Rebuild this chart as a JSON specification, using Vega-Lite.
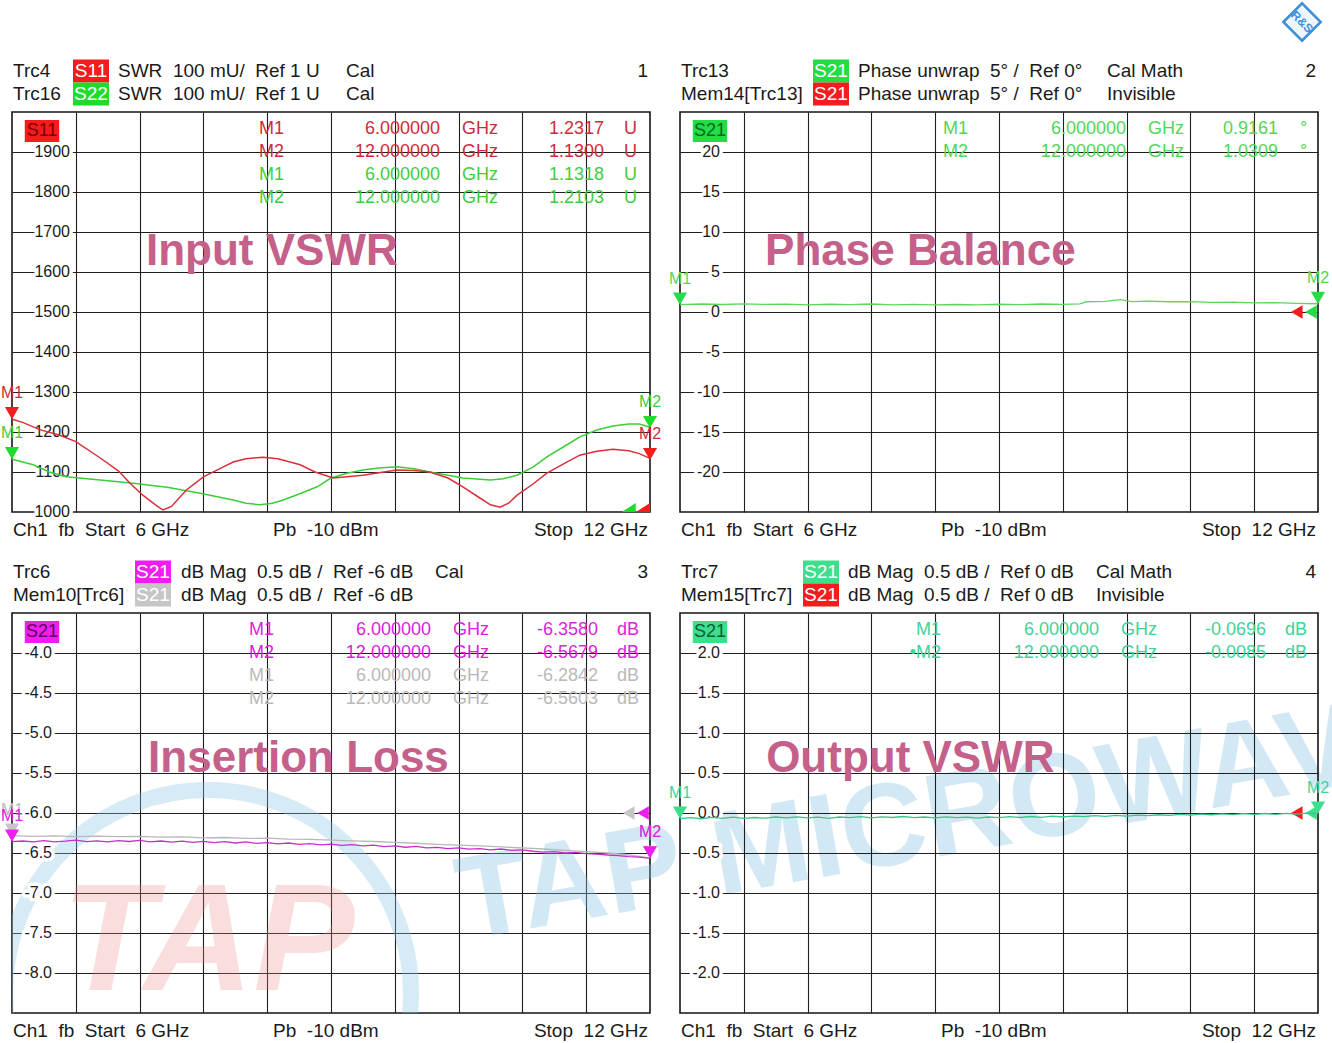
{
  "$schema": "https://vega.github.io/schema/vega-lite/v6.json",
  "background": "white",
  "padding": {"left": 0, "top": -3, "right": 0, "bottom": 0},
  "config": {
    "font": "Liberation Sans",
    "view": {"stroke": "#151515", "strokeWidth": 1.6},
    "axis": {"grid": true, "labels": false, "ticks": false, "domain": false, "gridColor": "#1e1e1e", "gridWidth": 1.1, "gridOpacity": 1}
  },
  "datasets": {
    "p1_s11": [
      {"ghz": 6.0, "val": 1232}, {"ghz": 6.1, "val": 1224}, {"ghz": 6.26, "val": 1206}, {"ghz": 6.45, "val": 1192},
      {"ghz": 6.6, "val": 1176}, {"ghz": 6.83, "val": 1135}, {"ghz": 7.0, "val": 1103}, {"ghz": 7.11, "val": 1072},
      {"ghz": 7.23, "val": 1042}, {"ghz": 7.35, "val": 1018}, {"ghz": 7.42, "val": 1005}, {"ghz": 7.5, "val": 1014},
      {"ghz": 7.64, "val": 1055}, {"ghz": 7.8, "val": 1088}, {"ghz": 7.95, "val": 1108}, {"ghz": 8.08, "val": 1125},
      {"ghz": 8.2, "val": 1133}, {"ghz": 8.36, "val": 1137}, {"ghz": 8.5, "val": 1133}, {"ghz": 8.71, "val": 1118},
      {"ghz": 8.85, "val": 1100}, {"ghz": 9.02, "val": 1085}, {"ghz": 9.15, "val": 1088}, {"ghz": 9.3, "val": 1092},
      {"ghz": 9.45, "val": 1098}, {"ghz": 9.62, "val": 1105}, {"ghz": 9.78, "val": 1104}, {"ghz": 9.93, "val": 1100},
      {"ghz": 10.1, "val": 1085}, {"ghz": 10.24, "val": 1063}, {"ghz": 10.4, "val": 1035}, {"ghz": 10.5, "val": 1018},
      {"ghz": 10.59, "val": 1012}, {"ghz": 10.67, "val": 1022}, {"ghz": 10.75, "val": 1042}, {"ghz": 10.9, "val": 1070},
      {"ghz": 11.03, "val": 1097}, {"ghz": 11.2, "val": 1122}, {"ghz": 11.34, "val": 1142}, {"ghz": 11.5, "val": 1152},
      {"ghz": 11.65, "val": 1157}, {"ghz": 11.8, "val": 1153}, {"ghz": 11.9, "val": 1146}, {"ghz": 12.0, "val": 1134}
    ],
    "p1_s22": [
      {"ghz": 6.0, "val": 1132}, {"ghz": 6.2, "val": 1118}, {"ghz": 6.35, "val": 1100}, {"ghz": 6.51, "val": 1088},
      {"ghz": 6.83, "val": 1080}, {"ghz": 7.14, "val": 1072}, {"ghz": 7.46, "val": 1062}, {"ghz": 7.77, "val": 1047},
      {"ghz": 8.08, "val": 1030}, {"ghz": 8.2, "val": 1022}, {"ghz": 8.33, "val": 1018}, {"ghz": 8.45, "val": 1022},
      {"ghz": 8.55, "val": 1030}, {"ghz": 8.7, "val": 1045}, {"ghz": 8.87, "val": 1063}, {"ghz": 9.0, "val": 1085},
      {"ghz": 9.15, "val": 1097}, {"ghz": 9.3, "val": 1105}, {"ghz": 9.45, "val": 1110}, {"ghz": 9.62, "val": 1113},
      {"ghz": 9.78, "val": 1108}, {"ghz": 9.93, "val": 1100}, {"ghz": 10.1, "val": 1092}, {"ghz": 10.24, "val": 1085},
      {"ghz": 10.5, "val": 1080}, {"ghz": 10.62, "val": 1083}, {"ghz": 10.75, "val": 1092}, {"ghz": 10.9, "val": 1112},
      {"ghz": 11.03, "val": 1138}, {"ghz": 11.2, "val": 1165}, {"ghz": 11.34, "val": 1188}, {"ghz": 11.5, "val": 1205},
      {"ghz": 11.65, "val": 1215}, {"ghz": 11.8, "val": 1220}, {"ghz": 11.9, "val": 1220}, {"ghz": 12.0, "val": 1212}
    ],
    "p1_markers": [
      {"ghz": 6, "val": 1232, "m": "M1", "trc": "Trc4"}, {"ghz": 12, "val": 1130, "m": "M2", "trc": "Trc4"},
      {"ghz": 6, "val": 1132, "m": "M1", "trc": "Trc16"}, {"ghz": 12, "val": 1210, "m": "M2", "trc": "Trc16"}
    ],
    "p1_table": [
      {"val": 1957.5, "m": "M1", "f": "6.000000", "u": "GHz", "v": "1.2317", "vu": "U", "trc": "Trc4"},
      {"val": 1900, "m": "M2", "f": "12.000000", "u": "GHz", "v": "1.1300", "vu": "U", "trc": "Trc4"},
      {"val": 1842.5, "m": "M1", "f": "6.000000", "u": "GHz", "v": "1.1318", "vu": "U", "trc": "Trc16"},
      {"val": 1785, "m": "M2", "f": "12.000000", "u": "GHz", "v": "1.2103", "vu": "U", "trc": "Trc16"}
    ],
    "p1_ticks": [
      {"val": 1000, "lab": "1000"}, {"val": 1100, "lab": "1100"}, {"val": 1200, "lab": "1200"}, {"val": 1300, "lab": "1300"},
      {"val": 1400, "lab": "1400"}, {"val": 1500, "lab": "1500"}, {"val": 1600, "lab": "1600"}, {"val": 1700, "lab": "1700"},
      {"val": 1800, "lab": "1800"}, {"val": 1900, "lab": "1900"}
    ],
    "p1_left": [
      {"ghz": 6.0094, "val": 2102.5, "t": "Trc4"},
      {"ghz": 6.997, "val": 2102.5, "t": "SWR\u00a0\u00a0100\u00a0mU/\u00a0\u00a0Ref\u00a01\u00a0U"},
      {"ghz": 9.141, "val": 2102.5, "t": "Cal"},
      {"ghz": 6.0094, "val": 2045, "t": "Trc16"},
      {"ghz": 6.997, "val": 2045, "t": "SWR\u00a0\u00a0100\u00a0mU/\u00a0\u00a0Ref\u00a01\u00a0U"},
      {"ghz": 9.141, "val": 2045, "t": "Cal"},
      {"ghz": 6.0094, "val": 955, "t": "Ch1\u00a0\u00a0fb\u00a0\u00a0Start\u00a0\u00a06\u00a0GHz"},
      {"ghz": 8.455, "val": 955, "t": "Pb\u00a0\u00a0-10\u00a0dBm"}
    ],
    "p1_right": [
      {"ghz": 11.981, "val": 2102.5, "t": "1"},
      {"ghz": 11.981, "val": 955, "t": "Stop\u00a0\u00a012\u00a0GHz"}
    ],
    "p1_badges": [
      {"ghz": 6.743, "val": 2102.5, "t": "S11", "trc": "Trc4"},
      {"ghz": 6.743, "val": 2045, "t": "S22", "trc": "Trc16"}
    ],
    "p1_inbadge": [{"ghz": 6.282, "val": 1952.5, "t": "S11", "trc": "Trc4"}],
    "p1_title": [{"ghz": 7.26, "val": 1617.5, "t": "Input VSWR"}],
    "p1_ref": [{"ghz": 11.8, "val": 1000, "trc": "Trc16"}, {"ghz": 11.934, "val": 1000, "trc": "Trc4"}],

    "p2_s21": [
      {"ghz": 6.0, "val": 0.92}, {"ghz": 6.2, "val": 1.0}, {"ghz": 6.4, "val": 0.94}, {"ghz": 6.6, "val": 1.02},
      {"ghz": 6.8, "val": 0.95}, {"ghz": 7.0, "val": 0.98}, {"ghz": 7.2, "val": 0.9}, {"ghz": 7.4, "val": 0.97},
      {"ghz": 7.6, "val": 0.93}, {"ghz": 7.8, "val": 1.0}, {"ghz": 8.0, "val": 0.9}, {"ghz": 8.2, "val": 0.96},
      {"ghz": 8.4, "val": 0.88}, {"ghz": 8.6, "val": 0.94}, {"ghz": 8.8, "val": 0.9}, {"ghz": 9.0, "val": 0.97},
      {"ghz": 9.2, "val": 0.93}, {"ghz": 9.4, "val": 1.0}, {"ghz": 9.6, "val": 0.96}, {"ghz": 9.76, "val": 1.02},
      {"ghz": 9.82, "val": 1.28}, {"ghz": 10.0, "val": 1.32}, {"ghz": 10.14, "val": 1.55}, {"ghz": 10.25, "val": 1.3},
      {"ghz": 10.4, "val": 1.36}, {"ghz": 10.6, "val": 1.28}, {"ghz": 10.8, "val": 1.3}, {"ghz": 11.0, "val": 1.2},
      {"ghz": 11.2, "val": 1.24}, {"ghz": 11.4, "val": 1.14}, {"ghz": 11.6, "val": 1.16}, {"ghz": 11.8, "val": 1.08},
      {"ghz": 12.0, "val": 1.03}
    ],
    "p2_markers": [
      {"ghz": 6, "val": 0.9161, "m": "M1", "trc": "Trc13"}, {"ghz": 12, "val": 1.0309, "m": "M2", "trc": "Trc13"}
    ],
    "p2_table": [
      {"val": 22.875, "m": "M1", "f": "6.000000", "u": "GHz", "v": "0.9161", "vu": "°", "trc": "Trc13"},
      {"val": 20, "m": "M2", "f": "12.000000", "u": "GHz", "v": "1.0309", "vu": "°", "trc": "Trc13"}
    ],
    "p2_ticks": [
      {"val": -20, "lab": "-20"}, {"val": -15, "lab": "-15"}, {"val": -10, "lab": "-10"}, {"val": -5, "lab": "-5"},
      {"val": 0, "lab": "0"}, {"val": 5, "lab": "5"}, {"val": 10, "lab": "10"}, {"val": 15, "lab": "15"}, {"val": 20, "lab": "20"}
    ],
    "p2_left": [
      {"ghz": 6.0094, "val": 30.125, "t": "Trc13"},
      {"ghz": 7.674, "val": 30.125, "t": "Phase\u00a0unwrap\u00a0\u00a05°\u00a0/\u00a0\u00a0Ref\u00a00°"},
      {"ghz": 10.016, "val": 30.125, "t": "Cal\u00a0Math"},
      {"ghz": 6.0094, "val": 27.25, "t": "Mem14[Trc13]"},
      {"ghz": 7.674, "val": 27.25, "t": "Phase\u00a0unwrap\u00a0\u00a05°\u00a0/\u00a0\u00a0Ref\u00a00°"},
      {"ghz": 10.016, "val": 27.25, "t": "Invisible"},
      {"ghz": 6.0094, "val": -27.25, "t": "Ch1\u00a0\u00a0fb\u00a0\u00a0Start\u00a0\u00a06\u00a0GHz"},
      {"ghz": 8.455, "val": -27.25, "t": "Pb\u00a0\u00a0-10\u00a0dBm"}
    ],
    "p2_right": [
      {"ghz": 11.981, "val": 30.125, "t": "2"},
      {"ghz": 11.981, "val": -27.25, "t": "Stop\u00a0\u00a012\u00a0GHz"}
    ],
    "p2_badges": [
      {"ghz": 7.42, "val": 30.125, "t": "S21", "trc": "Trc13"},
      {"ghz": 7.42, "val": 27.25, "t": "S21", "trc": "Mem14"}
    ],
    "p2_inbadge": [{"ghz": 6.282, "val": 22.625, "t": "S21", "trc": "Trc13"}],
    "p2_title": [{"ghz": 6.8, "val": 5.875, "t": "Phase Balance"}],
    "p2_ref": [{"ghz": 11.8, "val": 0, "trc": "Mem14"}, {"ghz": 11.934, "val": 0, "trc": "Trc13"}],
    "p2_logo": [{"ghz": 11.85, "val": 36.25, "t": "R&S"}],

    "p3_mem": [
      {"ghz": 6.0, "val": -6.284}, {"ghz": 6.2, "val": -6.292}, {"ghz": 6.4, "val": -6.286}, {"ghz": 6.6, "val": -6.295},
      {"ghz": 6.8, "val": -6.288}, {"ghz": 7.0, "val": -6.296}, {"ghz": 7.2, "val": -6.292}, {"ghz": 7.4, "val": -6.302},
      {"ghz": 7.6, "val": -6.298}, {"ghz": 7.8, "val": -6.31}, {"ghz": 8.0, "val": -6.306}, {"ghz": 8.2, "val": -6.318},
      {"ghz": 8.4, "val": -6.315}, {"ghz": 8.6, "val": -6.326}, {"ghz": 8.8, "val": -6.33}, {"ghz": 9.0, "val": -6.34},
      {"ghz": 9.2, "val": -6.348}, {"ghz": 9.4, "val": -6.356}, {"ghz": 9.6, "val": -6.368}, {"ghz": 9.8, "val": -6.378},
      {"ghz": 10.0, "val": -6.392}, {"ghz": 10.2, "val": -6.402}, {"ghz": 10.4, "val": -6.412}, {"ghz": 10.6, "val": -6.424},
      {"ghz": 10.8, "val": -6.436}, {"ghz": 11.0, "val": -6.45}, {"ghz": 11.2, "val": -6.466}, {"ghz": 11.4, "val": -6.482},
      {"ghz": 11.6, "val": -6.5}, {"ghz": 11.8, "val": -6.525}, {"ghz": 12.0, "val": -6.56}
    ],
    "p3_s21": [
      {"ghz": 6.0, "val": -6.358}, {"ghz": 6.1, "val": -6.35}, {"ghz": 6.2, "val": -6.362}, {"ghz": 6.3, "val": -6.345},
      {"ghz": 6.4, "val": -6.36}, {"ghz": 6.5, "val": -6.352}, {"ghz": 6.6, "val": -6.34}, {"ghz": 6.7, "val": -6.358},
      {"ghz": 6.8, "val": -6.348}, {"ghz": 6.9, "val": -6.362}, {"ghz": 7.0, "val": -6.345}, {"ghz": 7.1, "val": -6.356},
      {"ghz": 7.2, "val": -6.342}, {"ghz": 7.3, "val": -6.36}, {"ghz": 7.4, "val": -6.35}, {"ghz": 7.5, "val": -6.365},
      {"ghz": 7.6, "val": -6.352}, {"ghz": 7.7, "val": -6.368}, {"ghz": 7.8, "val": -6.355}, {"ghz": 7.9, "val": -6.37},
      {"ghz": 8.0, "val": -6.358}, {"ghz": 8.1, "val": -6.375}, {"ghz": 8.2, "val": -6.362}, {"ghz": 8.3, "val": -6.38},
      {"ghz": 8.4, "val": -6.37}, {"ghz": 8.5, "val": -6.385}, {"ghz": 8.6, "val": -6.375}, {"ghz": 8.7, "val": -6.392},
      {"ghz": 8.8, "val": -6.382}, {"ghz": 8.9, "val": -6.398}, {"ghz": 9.0, "val": -6.39}, {"ghz": 9.1, "val": -6.405},
      {"ghz": 9.2, "val": -6.395}, {"ghz": 9.3, "val": -6.412}, {"ghz": 9.4, "val": -6.402}, {"ghz": 9.5, "val": -6.42},
      {"ghz": 9.6, "val": -6.41}, {"ghz": 9.7, "val": -6.428}, {"ghz": 9.8, "val": -6.418}, {"ghz": 9.9, "val": -6.435},
      {"ghz": 10.0, "val": -6.43}, {"ghz": 10.1, "val": -6.445}, {"ghz": 10.2, "val": -6.436}, {"ghz": 10.3, "val": -6.452},
      {"ghz": 10.4, "val": -6.445}, {"ghz": 10.5, "val": -6.46}, {"ghz": 10.6, "val": -6.45}, {"ghz": 10.7, "val": -6.468},
      {"ghz": 10.8, "val": -6.46}, {"ghz": 10.9, "val": -6.478}, {"ghz": 11.0, "val": -6.488}, {"ghz": 11.1, "val": -6.482},
      {"ghz": 11.2, "val": -6.498}, {"ghz": 11.3, "val": -6.492}, {"ghz": 11.4, "val": -6.508}, {"ghz": 11.5, "val": -6.515},
      {"ghz": 11.6, "val": -6.525}, {"ghz": 11.7, "val": -6.532}, {"ghz": 11.8, "val": -6.545}, {"ghz": 11.9, "val": -6.552},
      {"ghz": 12.0, "val": -6.567}
    ],
    "p3_markers": [
      {"ghz": 6, "val": -6.2842, "m": "M1", "trc": "Mem10"}, {"ghz": 12, "val": -6.5603, "m": "M2", "trc": "Mem10"},
      {"ghz": 6, "val": -6.358, "m": "M1", "trc": "Trc6"}, {"ghz": 12, "val": -6.5679, "m": "M2", "trc": "Trc6"}
    ],
    "p3_table": [
      {"val": -3.7125, "m": "M1", "f": "6.000000", "u": "GHz", "v": "-6.3580", "vu": "dB", "trc": "Trc6"},
      {"val": -4.0, "m": "M2", "f": "12.000000", "u": "GHz", "v": "-6.5679", "vu": "dB", "trc": "Trc6"},
      {"val": -4.2875, "m": "M1", "f": "6.000000", "u": "GHz", "v": "-6.2842", "vu": "dB", "trc": "Mem10"},
      {"val": -4.575, "m": "M2", "f": "12.000000", "u": "GHz", "v": "-6.5603", "vu": "dB", "trc": "Mem10"}
    ],
    "p3_ticks": [
      {"val": -8, "lab": "-8.0"}, {"val": -7.5, "lab": "-7.5"}, {"val": -7, "lab": "-7.0"}, {"val": -6.5, "lab": "-6.5"},
      {"val": -6, "lab": "-6.0"}, {"val": -5.5, "lab": "-5.5"}, {"val": -5, "lab": "-5.0"}, {"val": -4.5, "lab": "-4.5"},
      {"val": -4, "lab": "-4.0"}
    ],
    "p3_left": [
      {"ghz": 6.0094, "val": -2.9875, "t": "Trc6"},
      {"ghz": 7.589, "val": -2.9875, "t": "dB\u00a0Mag\u00a0\u00a00.5\u00a0dB\u00a0/\u00a0\u00a0Ref\u00a0-6\u00a0dB"},
      {"ghz": 9.978, "val": -2.9875, "t": "Cal"},
      {"ghz": 6.0094, "val": -3.275, "t": "Mem10[Trc6]"},
      {"ghz": 7.589, "val": -3.275, "t": "dB\u00a0Mag\u00a0\u00a00.5\u00a0dB\u00a0/\u00a0\u00a0Ref\u00a0-6\u00a0dB"},
      {"ghz": 6.0094, "val": -8.725, "t": "Ch1\u00a0\u00a0fb\u00a0\u00a0Start\u00a0\u00a06\u00a0GHz"},
      {"ghz": 8.455, "val": -8.725, "t": "Pb\u00a0\u00a0-10\u00a0dBm"}
    ],
    "p3_right": [
      {"ghz": 11.981, "val": -2.9875, "t": "3"},
      {"ghz": 11.981, "val": -8.725, "t": "Stop\u00a0\u00a012\u00a0GHz"}
    ],
    "p3_badges": [
      {"ghz": 7.326, "val": -2.9875, "t": "S21", "trc": "Trc6"},
      {"ghz": 7.326, "val": -3.275, "t": "S21", "trc": "Mem10"}
    ],
    "p3_inbadge": [{"ghz": 6.282, "val": -3.7375, "t": "S21", "trc": "Trc6"}],
    "p3_title": [{"ghz": 7.28, "val": -5.49, "t": "Insertion Loss"}],
    "p3_ref": [{"ghz": 11.8, "val": -6, "trc": "Mem10"}, {"ghz": 11.934, "val": -6, "trc": "Trc6"}],
    "p3_ring": [{"ghz": 7.843, "val": -8.25}],
    "p3_wm_red": [{"ghz": 6.47, "val": -8.2125, "t": "TAP"}],
    "p3_wm_blue": [{"ghz": 10.26, "val": -7.5875, "t": "TAP MICROWAVE"}],

    "p4_s21": [
      {"ghz": 6.0, "val": -0.07}, {"ghz": 6.1, "val": -0.058}, {"ghz": 6.2, "val": -0.072}, {"ghz": 6.3, "val": -0.055},
      {"ghz": 6.4, "val": -0.066}, {"ghz": 6.5, "val": -0.052}, {"ghz": 6.6, "val": -0.068}, {"ghz": 6.7, "val": -0.056},
      {"ghz": 6.8, "val": -0.064}, {"ghz": 6.9, "val": -0.05}, {"ghz": 7.0, "val": -0.062}, {"ghz": 7.1, "val": -0.048},
      {"ghz": 7.2, "val": -0.06}, {"ghz": 7.3, "val": -0.052}, {"ghz": 7.4, "val": -0.066}, {"ghz": 7.5, "val": -0.05},
      {"ghz": 7.6, "val": -0.058}, {"ghz": 7.7, "val": -0.046}, {"ghz": 7.8, "val": -0.06}, {"ghz": 7.9, "val": -0.048},
      {"ghz": 8.0, "val": -0.056}, {"ghz": 8.1, "val": -0.044}, {"ghz": 8.2, "val": -0.058}, {"ghz": 8.3, "val": -0.05},
      {"ghz": 8.4, "val": -0.062}, {"ghz": 8.5, "val": -0.048}, {"ghz": 8.6, "val": -0.058}, {"ghz": 8.7, "val": -0.052},
      {"ghz": 8.8, "val": -0.064}, {"ghz": 8.9, "val": -0.05}, {"ghz": 9.0, "val": -0.058}, {"ghz": 9.1, "val": -0.046},
      {"ghz": 9.2, "val": -0.056}, {"ghz": 9.3, "val": -0.044}, {"ghz": 9.4, "val": -0.054}, {"ghz": 9.5, "val": -0.04},
      {"ghz": 9.6, "val": -0.05}, {"ghz": 9.7, "val": -0.038}, {"ghz": 9.8, "val": -0.046}, {"ghz": 9.9, "val": -0.034},
      {"ghz": 10.0, "val": -0.042}, {"ghz": 10.1, "val": -0.03}, {"ghz": 10.2, "val": -0.038}, {"ghz": 10.3, "val": -0.026},
      {"ghz": 10.4, "val": -0.034}, {"ghz": 10.5, "val": -0.022}, {"ghz": 10.6, "val": -0.03}, {"ghz": 10.7, "val": -0.018},
      {"ghz": 10.8, "val": -0.026}, {"ghz": 10.9, "val": -0.014}, {"ghz": 11.0, "val": -0.022}, {"ghz": 11.1, "val": -0.01},
      {"ghz": 11.2, "val": -0.02}, {"ghz": 11.3, "val": -0.008}, {"ghz": 11.4, "val": -0.018}, {"ghz": 11.5, "val": -0.006},
      {"ghz": 11.6, "val": -0.016}, {"ghz": 11.7, "val": -0.004}, {"ghz": 11.8, "val": -0.014}, {"ghz": 11.9, "val": -0.002},
      {"ghz": 12.0, "val": -0.009}
    ],
    "p4_markers": [
      {"ghz": 6, "val": -0.0696, "m": "M1", "trc": "Trc7"}, {"ghz": 12, "val": -0.0085, "m": "M2", "trc": "Trc7"}
    ],
    "p4_table": [
      {"val": 2.2875, "m": "M1", "f": "6.000000", "u": "GHz", "v": "-0.0696", "vu": "dB", "trc": "Trc7"},
      {"val": 2.0, "m": "•M2", "f": "12.000000", "u": "GHz", "v": "-0.0085", "vu": "dB", "trc": "Trc7"}
    ],
    "p4_ticks": [
      {"val": -2, "lab": "-2.0"}, {"val": -1.5, "lab": "-1.5"}, {"val": -1, "lab": "-1.0"}, {"val": -0.5, "lab": "-0.5"},
      {"val": 0, "lab": "0.0"}, {"val": 0.5, "lab": "0.5"}, {"val": 1, "lab": "1.0"}, {"val": 1.5, "lab": "1.5"},
      {"val": 2, "lab": "2.0"}
    ],
    "p4_left": [
      {"ghz": 6.0094, "val": 3.0125, "t": "Trc7"},
      {"ghz": 7.58, "val": 3.0125, "t": "dB\u00a0Mag\u00a0\u00a00.5\u00a0dB\u00a0/\u00a0\u00a0Ref\u00a00\u00a0dB"},
      {"ghz": 9.912, "val": 3.0125, "t": "Cal\u00a0Math"},
      {"ghz": 6.0094, "val": 2.725, "t": "Mem15[Trc7]"},
      {"ghz": 7.58, "val": 2.725, "t": "dB\u00a0Mag\u00a0\u00a00.5\u00a0dB\u00a0/\u00a0\u00a0Ref\u00a00\u00a0dB"},
      {"ghz": 9.912, "val": 2.725, "t": "Invisible"},
      {"ghz": 6.0094, "val": -2.725, "t": "Ch1\u00a0\u00a0fb\u00a0\u00a0Start\u00a0\u00a06\u00a0GHz"},
      {"ghz": 8.455, "val": -2.725, "t": "Pb\u00a0\u00a0-10\u00a0dBm"}
    ],
    "p4_right": [
      {"ghz": 11.981, "val": 3.0125, "t": "4"},
      {"ghz": 11.981, "val": -2.725, "t": "Stop\u00a0\u00a012\u00a0GHz"}
    ],
    "p4_badges": [
      {"ghz": 7.326, "val": 3.0125, "t": "S21", "trc": "Trc7"},
      {"ghz": 7.326, "val": 2.725, "t": "S21", "trc": "Mem15"}
    ],
    "p4_inbadge": [{"ghz": 6.282, "val": 2.2625, "t": "S21", "trc": "Trc7"}],
    "p4_title": [{"ghz": 6.81, "val": 0.51, "t": "Output VSWR"}],
    "p4_ref": [{"ghz": 11.8, "val": 0, "trc": "Mem15"}, {"ghz": 11.934, "val": 0, "trc": "Trc7"}]
  },
  "columns": 2,
  "spacing": {"row": 101, "column": 30},
  "bounds": "flush",
  "resolve": {"scale": {"color": "independent", "fill": "independent", "stroke": "independent"}},
  "concat": [
    {
      "width": 638,
      "height": 400,
      "encoding": {
        "y": {"field": "val", "type": "quantitative", "title": null, "scale": {"domain": [1000, 2000], "nice": false, "zero": false}, "axis": {"values": [1100, 1200, 1300, 1400, 1500, 1600, 1700, 1800, 1900]}}
      },
      "layer": [
        {"data": {"name": "p1_title"}, "mark": {"type": "text", "align": "left", "baseline": "alphabetic", "fontSize": 44, "fontWeight": "bold", "color": "#c4608a"}, "encoding": {"x": {"field": "ghz", "type": "quantitative", "title": null, "scale": {"domain": [6, 12], "nice": false, "zero": false}, "axis": {"values": [6.6, 7.2, 7.8, 8.4, 9, 9.6, 10.2, 10.8, 11.4]}}, "text": {"field": "t"}}},
        {"data": {"name": "p1_ticks"}, "mark": {"type": "text", "align": "right", "baseline": "middle", "dx": 58, "fontSize": 16, "fill": "white", "stroke": "white", "strokeWidth": 7, "strokeJoin": "round"}, "encoding": {"x": {"datum": 6, "title": null}, "text": {"field": "lab"}}},
        {"data": {"name": "p1_ticks"}, "mark": {"type": "text", "align": "right", "baseline": "middle", "dx": 58, "fontSize": 16, "color": "#1a1a1a"}, "encoding": {"x": {"datum": 6, "title": null}, "text": {"field": "lab"}}},
        {"data": {"name": "p1_ref"}, "mark": {"type": "point", "shape": "M-1,0L1,0L1,-1.3Z", "size": 196, "filled": true, "opacity": 1, "strokeWidth": 0}, "encoding": {"x": {"field": "ghz", "type": "quantitative", "title": null}, "fill": {"field": "trc", "type": "nominal", "scale": {"domain": ["Trc4", "Trc16"], "range": ["#f41c1c", "#1fdc2c"]}, "legend": null}}},
        {"data": {"name": "p1_s22"}, "mark": {"type": "line", "color": "#3dcc3a", "strokeWidth": 1.5}, "encoding": {"x": {"field": "ghz", "type": "quantitative", "title": null}}},
        {"data": {"name": "p1_s11"}, "mark": {"type": "line", "color": "#d8303a", "strokeWidth": 1.5}, "encoding": {"x": {"field": "ghz", "type": "quantitative", "title": null}}},
        {"data": {"name": "p1_markers"}, "mark": {"type": "point", "shape": "triangle-down", "size": 200, "filled": true, "opacity": 1, "strokeWidth": 0, "yOffset": -6}, "encoding": {"x": {"field": "ghz", "type": "quantitative", "title": null}, "fill": {"field": "trc", "type": "nominal", "scale": {"domain": ["Trc4", "Trc16"], "range": ["#f41c1c", "#1fdc2c"]}, "legend": null}}},
        {"data": {"name": "p1_markers"}, "mark": {"type": "text", "align": "center", "baseline": "middle", "fontSize": 16, "dy": -26}, "encoding": {"x": {"field": "ghz", "type": "quantitative", "title": null}, "text": {"field": "m"}, "color": {"field": "trc", "type": "nominal", "scale": {"domain": ["Trc4", "Trc16"], "range": ["#cf2b3b", "#3fcd3f"]}, "legend": null}}},
        {"data": {"name": "p1_table"}, "mark": {"type": "text", "align": "right", "baseline": "middle", "fontSize": 18}, "encoding": {"x": {"datum": 8.558, "title": null}, "text": {"field": "m"}, "color": {"field": "trc", "type": "nominal", "scale": {"domain": ["Trc4", "Trc16"], "range": ["#cf2b3b", "#3fcd3f"]}, "legend": null}}},
        {"data": {"name": "p1_table"}, "mark": {"type": "text", "align": "right", "baseline": "middle", "fontSize": 18}, "encoding": {"x": {"datum": 10.025, "title": null}, "text": {"field": "f"}, "color": {"field": "trc", "type": "nominal", "scale": {"domain": ["Trc4", "Trc16"], "range": ["#cf2b3b", "#3fcd3f"]}, "legend": null}}},
        {"data": {"name": "p1_table"}, "mark": {"type": "text", "align": "left", "baseline": "middle", "fontSize": 18}, "encoding": {"x": {"datum": 10.232, "title": null}, "text": {"field": "u"}, "color": {"field": "trc", "type": "nominal", "scale": {"domain": ["Trc4", "Trc16"], "range": ["#cf2b3b", "#3fcd3f"]}, "legend": null}}},
        {"data": {"name": "p1_table"}, "mark": {"type": "text", "align": "right", "baseline": "middle", "fontSize": 18}, "encoding": {"x": {"datum": 11.567, "title": null}, "text": {"field": "v"}, "color": {"field": "trc", "type": "nominal", "scale": {"domain": ["Trc4", "Trc16"], "range": ["#cf2b3b", "#3fcd3f"]}, "legend": null}}},
        {"data": {"name": "p1_table"}, "mark": {"type": "text", "align": "left", "baseline": "middle", "fontSize": 18}, "encoding": {"x": {"datum": 11.755, "title": null}, "text": {"field": "vu"}, "color": {"field": "trc", "type": "nominal", "scale": {"domain": ["Trc4", "Trc16"], "range": ["#cf2b3b", "#3fcd3f"]}, "legend": null}}},
        {"data": {"name": "p1_inbadge"}, "mark": {"type": "point", "shape": "M-1.565,-1L1.565,-1L1.565,1L-1.565,1Z", "size": 484, "filled": true, "opacity": 1, "strokeWidth": 0}, "encoding": {"x": {"field": "ghz", "type": "quantitative", "title": null}, "fill": {"field": "trc", "type": "nominal", "scale": {"domain": ["Trc4", "Trc16"], "range": ["#f41c1c", "#1fdc2c"]}, "legend": null}}},
        {"data": {"name": "p1_inbadge"}, "mark": {"type": "text", "align": "center", "baseline": "middle", "fontSize": 18, "color": "#7a0000"}, "encoding": {"x": {"field": "ghz", "type": "quantitative", "title": null}, "text": {"field": "t"}}},
        {"data": {"name": "p1_badges"}, "mark": {"type": "point", "shape": "M-1.565,-1L1.565,-1L1.565,1L-1.565,1Z", "size": 529, "filled": true, "opacity": 1, "strokeWidth": 0}, "encoding": {"x": {"field": "ghz", "type": "quantitative", "title": null}, "fill": {"field": "trc", "type": "nominal", "scale": {"domain": ["Trc4", "Trc16"], "range": ["#f41c1c", "#1fdc2c"]}, "legend": null}}},
        {"data": {"name": "p1_badges"}, "mark": {"type": "text", "align": "center", "baseline": "middle", "fontSize": 19, "color": "white"}, "encoding": {"x": {"field": "ghz", "type": "quantitative", "title": null}, "text": {"field": "t"}}},
        {"data": {"name": "p1_left"}, "mark": {"type": "text", "align": "left", "baseline": "middle", "fontSize": 19, "color": "#1a1a1a"}, "encoding": {"x": {"field": "ghz", "type": "quantitative", "title": null}, "text": {"field": "t"}}},
        {"data": {"name": "p1_right"}, "mark": {"type": "text", "align": "right", "baseline": "middle", "fontSize": 19, "color": "#1a1a1a"}, "encoding": {"x": {"field": "ghz", "type": "quantitative", "title": null}, "text": {"field": "t"}}}
      ]
    },
    {
      "width": 638,
      "height": 400,
      "encoding": {
        "y": {"field": "val", "type": "quantitative", "title": null, "scale": {"domain": [-25, 25], "nice": false, "zero": false}, "axis": {"values": [-20, -15, -10, -5, 0, 5, 10, 15, 20]}}
      },
      "layer": [
        {"data": {"name": "p2_title"}, "mark": {"type": "text", "align": "left", "baseline": "alphabetic", "fontSize": 44, "fontWeight": "bold", "color": "#c4608a"}, "encoding": {"x": {"field": "ghz", "type": "quantitative", "title": null, "scale": {"domain": [6, 12], "nice": false, "zero": false}, "axis": {"values": [6.6, 7.2, 7.8, 8.4, 9, 9.6, 10.2, 10.8, 11.4]}}, "text": {"field": "t"}}},
        {"data": {"name": "p2_ticks"}, "mark": {"type": "text", "align": "right", "baseline": "middle", "dx": 40, "fontSize": 16, "fill": "white", "stroke": "white", "strokeWidth": 7, "strokeJoin": "round"}, "encoding": {"x": {"datum": 6, "title": null}, "text": {"field": "lab"}}},
        {"data": {"name": "p2_ticks"}, "mark": {"type": "text", "align": "right", "baseline": "middle", "dx": 40, "fontSize": 16, "color": "#1a1a1a"}, "encoding": {"x": {"datum": 6, "title": null}, "text": {"field": "lab"}}},
        {"data": {"name": "p2_ref"}, "mark": {"type": "point", "shape": "triangle-left", "size": 180, "filled": true, "opacity": 1, "strokeWidth": 0}, "encoding": {"x": {"field": "ghz", "type": "quantitative", "title": null}, "fill": {"field": "trc", "type": "nominal", "scale": {"domain": ["Trc13", "Mem14"], "range": ["#22dc48", "#f41c1c"]}, "legend": null}}},
        {"data": {"name": "p2_s21"}, "mark": {"type": "line", "color": "#5ed65e", "strokeWidth": 1.3}, "encoding": {"x": {"field": "ghz", "type": "quantitative", "title": null}}},
        {"data": {"name": "p2_markers"}, "mark": {"type": "point", "shape": "triangle-down", "size": 200, "filled": true, "opacity": 1, "strokeWidth": 0, "yOffset": -6}, "encoding": {"x": {"field": "ghz", "type": "quantitative", "title": null}, "fill": {"field": "trc", "type": "nominal", "scale": {"domain": ["Trc13", "Mem14"], "range": ["#22dc48", "#f41c1c"]}, "legend": null}}},
        {"data": {"name": "p2_markers"}, "mark": {"type": "text", "align": "center", "baseline": "middle", "fontSize": 16, "dy": -26}, "encoding": {"x": {"field": "ghz", "type": "quantitative", "title": null}, "text": {"field": "m"}, "color": {"field": "trc", "type": "nominal", "scale": {"domain": ["Trc13", "Mem14"], "range": ["#52d65a", "#cf2b3b"]}, "legend": null}}},
        {"data": {"name": "p2_table"}, "mark": {"type": "text", "align": "right", "baseline": "middle", "fontSize": 18}, "encoding": {"x": {"datum": 8.708, "title": null}, "text": {"field": "m"}, "color": {"field": "trc", "type": "nominal", "scale": {"domain": ["Trc13", "Mem14"], "range": ["#52d65a", "#cf2b3b"]}, "legend": null}}},
        {"data": {"name": "p2_table"}, "mark": {"type": "text", "align": "right", "baseline": "middle", "fontSize": 18}, "encoding": {"x": {"datum": 10.194, "title": null}, "text": {"field": "f"}, "color": {"field": "trc", "type": "nominal", "scale": {"domain": ["Trc13", "Mem14"], "range": ["#52d65a", "#cf2b3b"]}, "legend": null}}},
        {"data": {"name": "p2_table"}, "mark": {"type": "text", "align": "left", "baseline": "middle", "fontSize": 18}, "encoding": {"x": {"datum": 10.401, "title": null}, "text": {"field": "u"}, "color": {"field": "trc", "type": "nominal", "scale": {"domain": ["Trc13", "Mem14"], "range": ["#52d65a", "#cf2b3b"]}, "legend": null}}},
        {"data": {"name": "p2_table"}, "mark": {"type": "text", "align": "right", "baseline": "middle", "fontSize": 18}, "encoding": {"x": {"datum": 11.624, "title": null}, "text": {"field": "v"}, "color": {"field": "trc", "type": "nominal", "scale": {"domain": ["Trc13", "Mem14"], "range": ["#52d65a", "#cf2b3b"]}, "legend": null}}},
        {"data": {"name": "p2_table"}, "mark": {"type": "text", "align": "left", "baseline": "middle", "fontSize": 18}, "encoding": {"x": {"datum": 11.831, "title": null}, "text": {"field": "vu"}, "color": {"field": "trc", "type": "nominal", "scale": {"domain": ["Trc13", "Mem14"], "range": ["#52d65a", "#cf2b3b"]}, "legend": null}}},
        {"data": {"name": "p2_inbadge"}, "mark": {"type": "point", "shape": "M-1.565,-1L1.565,-1L1.565,1L-1.565,1Z", "size": 484, "filled": true, "opacity": 1, "strokeWidth": 0}, "encoding": {"x": {"field": "ghz", "type": "quantitative", "title": null}, "fill": {"field": "trc", "type": "nominal", "scale": {"domain": ["Trc13", "Mem14"], "range": ["#22dc48", "#f41c1c"]}, "legend": null}}},
        {"data": {"name": "p2_inbadge"}, "mark": {"type": "text", "align": "center", "baseline": "middle", "fontSize": 18, "color": "#0a6a1a"}, "encoding": {"x": {"field": "ghz", "type": "quantitative", "title": null}, "text": {"field": "t"}}},
        {"data": {"name": "p2_badges"}, "mark": {"type": "point", "shape": "M-1.565,-1L1.565,-1L1.565,1L-1.565,1Z", "size": 529, "filled": true, "opacity": 1, "strokeWidth": 0}, "encoding": {"x": {"field": "ghz", "type": "quantitative", "title": null}, "fill": {"field": "trc", "type": "nominal", "scale": {"domain": ["Trc13", "Mem14"], "range": ["#22dc48", "#f41c1c"]}, "legend": null}}},
        {"data": {"name": "p2_badges"}, "mark": {"type": "text", "align": "center", "baseline": "middle", "fontSize": 19, "color": "white"}, "encoding": {"x": {"field": "ghz", "type": "quantitative", "title": null}, "text": {"field": "t"}}},
        {"data": {"name": "p2_left"}, "mark": {"type": "text", "align": "left", "baseline": "middle", "fontSize": 19, "color": "#1a1a1a"}, "encoding": {"x": {"field": "ghz", "type": "quantitative", "title": null}, "text": {"field": "t"}}},
        {"data": {"name": "p2_right"}, "mark": {"type": "text", "align": "right", "baseline": "middle", "fontSize": 19, "color": "#1a1a1a"}, "encoding": {"x": {"field": "ghz", "type": "quantitative", "title": null}, "text": {"field": "t"}}},
        {"data": {"name": "p2_logo"}, "mark": {"type": "point", "shape": "diamond", "size": 1400, "filled": true, "fill": "#eef6fd", "stroke": "#3d8fd8", "strokeWidth": 2.5, "opacity": 1}, "encoding": {"x": {"field": "ghz", "type": "quantitative", "title": null}}},
        {"data": {"name": "p2_logo"}, "mark": {"type": "text", "align": "center", "baseline": "middle", "fontSize": 12, "fontWeight": "bold", "color": "#3d8fd8", "angle": 45}, "encoding": {"x": {"field": "ghz", "type": "quantitative", "title": null}, "text": {"field": "t"}}}
      ]
    },
    {
      "width": 638,
      "height": 400,
      "encoding": {
        "y": {"field": "val", "type": "quantitative", "title": null, "scale": {"domain": [-8.5, -3.5], "nice": false, "zero": false}, "axis": {"values": [-8, -7.5, -7, -6.5, -6, -5.5, -5, -4.5, -4]}}
      },
      "layer": [
        {"data": {"name": "p3_ring"}, "mark": {"type": "point", "shape": "circle", "size": 164836, "filled": false, "color": "#8cc8e8", "strokeWidth": 16, "opacity": 0.35, "clip": true}, "encoding": {"x": {"field": "ghz", "type": "quantitative", "title": null, "scale": {"domain": [6, 12], "nice": false, "zero": false}, "axis": {"values": [6.6, 7.2, 7.8, 8.4, 9, 9.6, 10.2, 10.8, 11.4]}}}},
        {"data": {"name": "p3_wm_red"}, "mark": {"type": "text", "align": "left", "baseline": "alphabetic", "fontSize": 152, "fontWeight": "bold", "fontStyle": "italic", "color": "#ee8a8a", "opacity": 0.28}, "encoding": {"x": {"field": "ghz", "type": "quantitative", "title": null}, "text": {"field": "t"}}},
        {"data": {"name": "p3_wm_blue"}, "mark": {"type": "text", "align": "left", "baseline": "alphabetic", "fontSize": 118, "fontWeight": "bold", "color": "#7fc1e4", "opacity": 0.35, "angle": -10}, "encoding": {"x": {"field": "ghz", "type": "quantitative", "title": null}, "text": {"field": "t"}}},
        {"data": {"name": "p3_title"}, "mark": {"type": "text", "align": "left", "baseline": "alphabetic", "fontSize": 44, "fontWeight": "bold", "color": "#c4608a"}, "encoding": {"x": {"field": "ghz", "type": "quantitative", "title": null}, "text": {"field": "t"}}},
        {"data": {"name": "p3_ticks"}, "mark": {"type": "text", "align": "right", "baseline": "middle", "dx": 40, "fontSize": 16, "fill": "white", "stroke": "white", "strokeWidth": 7, "strokeJoin": "round"}, "encoding": {"x": {"datum": 6, "title": null}, "text": {"field": "lab"}}},
        {"data": {"name": "p3_ticks"}, "mark": {"type": "text", "align": "right", "baseline": "middle", "dx": 40, "fontSize": 16, "color": "#1a1a1a"}, "encoding": {"x": {"datum": 6, "title": null}, "text": {"field": "lab"}}},
        {"data": {"name": "p3_ref"}, "mark": {"type": "point", "shape": "triangle-left", "size": 180, "filled": true, "opacity": 1, "strokeWidth": 0}, "encoding": {"x": {"field": "ghz", "type": "quantitative", "title": null}, "fill": {"field": "trc", "type": "nominal", "scale": {"domain": ["Trc6", "Mem10"], "range": ["#ee1fee", "#c6c6c6"]}, "legend": null}}},
        {"data": {"name": "p3_mem"}, "mark": {"type": "line", "color": "#b8b8b8", "strokeWidth": 1.3}, "encoding": {"x": {"field": "ghz", "type": "quantitative", "title": null}}},
        {"data": {"name": "p3_s21"}, "mark": {"type": "line", "color": "#c430cc", "strokeWidth": 1.3}, "encoding": {"x": {"field": "ghz", "type": "quantitative", "title": null}}},
        {"data": {"name": "p3_markers"}, "mark": {"type": "point", "shape": "triangle-down", "size": 200, "filled": true, "opacity": 1, "strokeWidth": 0, "yOffset": -6}, "encoding": {"x": {"field": "ghz", "type": "quantitative", "title": null}, "fill": {"field": "trc", "type": "nominal", "scale": {"domain": ["Trc6", "Mem10"], "range": ["#ee1fee", "#c6c6c6"]}, "legend": null}}},
        {"data": {"name": "p3_markers"}, "mark": {"type": "text", "align": "center", "baseline": "middle", "fontSize": 16, "dy": -26}, "encoding": {"x": {"field": "ghz", "type": "quantitative", "title": null}, "text": {"field": "m"}, "color": {"field": "trc", "type": "nominal", "scale": {"domain": ["Trc6", "Mem10"], "range": ["#dd22dd", "#b9b9b9"]}, "legend": null}}},
        {"data": {"name": "p3_table"}, "mark": {"type": "text", "align": "right", "baseline": "middle", "fontSize": 18}, "encoding": {"x": {"datum": 8.464, "title": null}, "text": {"field": "m"}, "color": {"field": "trc", "type": "nominal", "scale": {"domain": ["Trc6", "Mem10"], "range": ["#dd22dd", "#b9b9b9"]}, "legend": null}}},
        {"data": {"name": "p3_table"}, "mark": {"type": "text", "align": "right", "baseline": "middle", "fontSize": 18}, "encoding": {"x": {"datum": 9.94, "title": null}, "text": {"field": "f"}, "color": {"field": "trc", "type": "nominal", "scale": {"domain": ["Trc6", "Mem10"], "range": ["#dd22dd", "#b9b9b9"]}, "legend": null}}},
        {"data": {"name": "p3_table"}, "mark": {"type": "text", "align": "left", "baseline": "middle", "fontSize": 18}, "encoding": {"x": {"datum": 10.147, "title": null}, "text": {"field": "u"}, "color": {"field": "trc", "type": "nominal", "scale": {"domain": ["Trc6", "Mem10"], "range": ["#dd22dd", "#b9b9b9"]}, "legend": null}}},
        {"data": {"name": "p3_table"}, "mark": {"type": "text", "align": "right", "baseline": "middle", "fontSize": 18}, "encoding": {"x": {"datum": 11.511, "title": null}, "text": {"field": "v"}, "color": {"field": "trc", "type": "nominal", "scale": {"domain": ["Trc6", "Mem10"], "range": ["#dd22dd", "#b9b9b9"]}, "legend": null}}},
        {"data": {"name": "p3_table"}, "mark": {"type": "text", "align": "left", "baseline": "middle", "fontSize": 18}, "encoding": {"x": {"datum": 11.69, "title": null}, "text": {"field": "vu"}, "color": {"field": "trc", "type": "nominal", "scale": {"domain": ["Trc6", "Mem10"], "range": ["#dd22dd", "#b9b9b9"]}, "legend": null}}},
        {"data": {"name": "p3_inbadge"}, "mark": {"type": "point", "shape": "M-1.565,-1L1.565,-1L1.565,1L-1.565,1Z", "size": 484, "filled": true, "opacity": 1, "strokeWidth": 0}, "encoding": {"x": {"field": "ghz", "type": "quantitative", "title": null}, "fill": {"field": "trc", "type": "nominal", "scale": {"domain": ["Trc6", "Mem10"], "range": ["#ee1fee", "#c6c6c6"]}, "legend": null}}},
        {"data": {"name": "p3_inbadge"}, "mark": {"type": "text", "align": "center", "baseline": "middle", "fontSize": 18, "color": "#5c005c"}, "encoding": {"x": {"field": "ghz", "type": "quantitative", "title": null}, "text": {"field": "t"}}},
        {"data": {"name": "p3_badges"}, "mark": {"type": "point", "shape": "M-1.565,-1L1.565,-1L1.565,1L-1.565,1Z", "size": 529, "filled": true, "opacity": 1, "strokeWidth": 0}, "encoding": {"x": {"field": "ghz", "type": "quantitative", "title": null}, "fill": {"field": "trc", "type": "nominal", "scale": {"domain": ["Trc6", "Mem10"], "range": ["#ee1fee", "#c6c6c6"]}, "legend": null}}},
        {"data": {"name": "p3_badges"}, "mark": {"type": "text", "align": "center", "baseline": "middle", "fontSize": 19, "color": "white"}, "encoding": {"x": {"field": "ghz", "type": "quantitative", "title": null}, "text": {"field": "t"}}},
        {"data": {"name": "p3_left"}, "mark": {"type": "text", "align": "left", "baseline": "middle", "fontSize": 19, "color": "#1a1a1a"}, "encoding": {"x": {"field": "ghz", "type": "quantitative", "title": null}, "text": {"field": "t"}}},
        {"data": {"name": "p3_right"}, "mark": {"type": "text", "align": "right", "baseline": "middle", "fontSize": 19, "color": "#1a1a1a"}, "encoding": {"x": {"field": "ghz", "type": "quantitative", "title": null}, "text": {"field": "t"}}}
      ]
    },
    {
      "width": 638,
      "height": 400,
      "encoding": {
        "y": {"field": "val", "type": "quantitative", "title": null, "scale": {"domain": [-2.5, 2.5], "nice": false, "zero": false}, "axis": {"values": [-2, -1.5, -1, -0.5, 0, 0.5, 1, 1.5, 2]}}
      },
      "layer": [
        {"data": {"name": "p4_title"}, "mark": {"type": "text", "align": "left", "baseline": "alphabetic", "fontSize": 44, "fontWeight": "bold", "color": "#c4608a"}, "encoding": {"x": {"field": "ghz", "type": "quantitative", "title": null, "scale": {"domain": [6, 12], "nice": false, "zero": false}, "axis": {"values": [6.6, 7.2, 7.8, 8.4, 9, 9.6, 10.2, 10.8, 11.4]}}, "text": {"field": "t"}}},
        {"data": {"name": "p4_ticks"}, "mark": {"type": "text", "align": "right", "baseline": "middle", "dx": 40, "fontSize": 16, "fill": "white", "stroke": "white", "strokeWidth": 7, "strokeJoin": "round"}, "encoding": {"x": {"datum": 6, "title": null}, "text": {"field": "lab"}}},
        {"data": {"name": "p4_ticks"}, "mark": {"type": "text", "align": "right", "baseline": "middle", "dx": 40, "fontSize": 16, "color": "#1a1a1a"}, "encoding": {"x": {"datum": 6, "title": null}, "text": {"field": "lab"}}},
        {"data": {"name": "p4_ref"}, "mark": {"type": "point", "shape": "triangle-left", "size": 180, "filled": true, "opacity": 1, "strokeWidth": 0}, "encoding": {"x": {"field": "ghz", "type": "quantitative", "title": null}, "fill": {"field": "trc", "type": "nominal", "scale": {"domain": ["Trc7", "Mem15"], "range": ["#3ddf8c", "#f41c1c"]}, "legend": null}}},
        {"data": {"name": "p4_s21"}, "mark": {"type": "line", "color": "#36c58a", "strokeWidth": 1.3}, "encoding": {"x": {"field": "ghz", "type": "quantitative", "title": null}}},
        {"data": {"name": "p4_markers"}, "mark": {"type": "point", "shape": "triangle-down", "size": 200, "filled": true, "opacity": 1, "strokeWidth": 0, "yOffset": -6}, "encoding": {"x": {"field": "ghz", "type": "quantitative", "title": null}, "fill": {"field": "trc", "type": "nominal", "scale": {"domain": ["Trc7", "Mem15"], "range": ["#3ddf8c", "#f41c1c"]}, "legend": null}}},
        {"data": {"name": "p4_markers"}, "mark": {"type": "text", "align": "center", "baseline": "middle", "fontSize": 16, "dy": -26}, "encoding": {"x": {"field": "ghz", "type": "quantitative", "title": null}, "text": {"field": "m"}, "color": {"field": "trc", "type": "nominal", "scale": {"domain": ["Trc7", "Mem15"], "range": ["#3fd39b", "#cf2b3b"]}, "legend": null}}},
        {"data": {"name": "p4_table"}, "mark": {"type": "text", "align": "right", "baseline": "middle", "fontSize": 18}, "encoding": {"x": {"datum": 8.455, "title": null}, "text": {"field": "m"}, "color": {"field": "trc", "type": "nominal", "scale": {"domain": ["Trc7", "Mem15"], "range": ["#3fd39b", "#cf2b3b"]}, "legend": null}}},
        {"data": {"name": "p4_table"}, "mark": {"type": "text", "align": "right", "baseline": "middle", "fontSize": 18}, "encoding": {"x": {"datum": 9.94, "title": null}, "text": {"field": "f"}, "color": {"field": "trc", "type": "nominal", "scale": {"domain": ["Trc7", "Mem15"], "range": ["#3fd39b", "#cf2b3b"]}, "legend": null}}},
        {"data": {"name": "p4_table"}, "mark": {"type": "text", "align": "left", "baseline": "middle", "fontSize": 18}, "encoding": {"x": {"datum": 10.147, "title": null}, "text": {"field": "u"}, "color": {"field": "trc", "type": "nominal", "scale": {"domain": ["Trc7", "Mem15"], "range": ["#3fd39b", "#cf2b3b"]}, "legend": null}}},
        {"data": {"name": "p4_table"}, "mark": {"type": "text", "align": "right", "baseline": "middle", "fontSize": 18}, "encoding": {"x": {"datum": 11.511, "title": null}, "text": {"field": "v"}, "color": {"field": "trc", "type": "nominal", "scale": {"domain": ["Trc7", "Mem15"], "range": ["#3fd39b", "#cf2b3b"]}, "legend": null}}},
        {"data": {"name": "p4_table"}, "mark": {"type": "text", "align": "left", "baseline": "middle", "fontSize": 18}, "encoding": {"x": {"datum": 11.69, "title": null}, "text": {"field": "vu"}, "color": {"field": "trc", "type": "nominal", "scale": {"domain": ["Trc7", "Mem15"], "range": ["#3fd39b", "#cf2b3b"]}, "legend": null}}},
        {"data": {"name": "p4_inbadge"}, "mark": {"type": "point", "shape": "M-1.565,-1L1.565,-1L1.565,1L-1.565,1Z", "size": 484, "filled": true, "opacity": 1, "strokeWidth": 0}, "encoding": {"x": {"field": "ghz", "type": "quantitative", "title": null}, "fill": {"field": "trc", "type": "nominal", "scale": {"domain": ["Trc7", "Mem15"], "range": ["#3ddf8c", "#f41c1c"]}, "legend": null}}},
        {"data": {"name": "p4_inbadge"}, "mark": {"type": "text", "align": "center", "baseline": "middle", "fontSize": 18, "color": "#0a5e36"}, "encoding": {"x": {"field": "ghz", "type": "quantitative", "title": null}, "text": {"field": "t"}}},
        {"data": {"name": "p4_badges"}, "mark": {"type": "point", "shape": "M-1.565,-1L1.565,-1L1.565,1L-1.565,1Z", "size": 529, "filled": true, "opacity": 1, "strokeWidth": 0}, "encoding": {"x": {"field": "ghz", "type": "quantitative", "title": null}, "fill": {"field": "trc", "type": "nominal", "scale": {"domain": ["Trc7", "Mem15"], "range": ["#3ddf8c", "#f41c1c"]}, "legend": null}}},
        {"data": {"name": "p4_badges"}, "mark": {"type": "text", "align": "center", "baseline": "middle", "fontSize": 19, "color": "white"}, "encoding": {"x": {"field": "ghz", "type": "quantitative", "title": null}, "text": {"field": "t"}}},
        {"data": {"name": "p4_left"}, "mark": {"type": "text", "align": "left", "baseline": "middle", "fontSize": 19, "color": "#1a1a1a"}, "encoding": {"x": {"field": "ghz", "type": "quantitative", "title": null}, "text": {"field": "t"}}},
        {"data": {"name": "p4_right"}, "mark": {"type": "text", "align": "right", "baseline": "middle", "fontSize": 19, "color": "#1a1a1a"}, "encoding": {"x": {"field": "ghz", "type": "quantitative", "title": null}, "text": {"field": "t"}}}
      ]
    }
  ]
}
